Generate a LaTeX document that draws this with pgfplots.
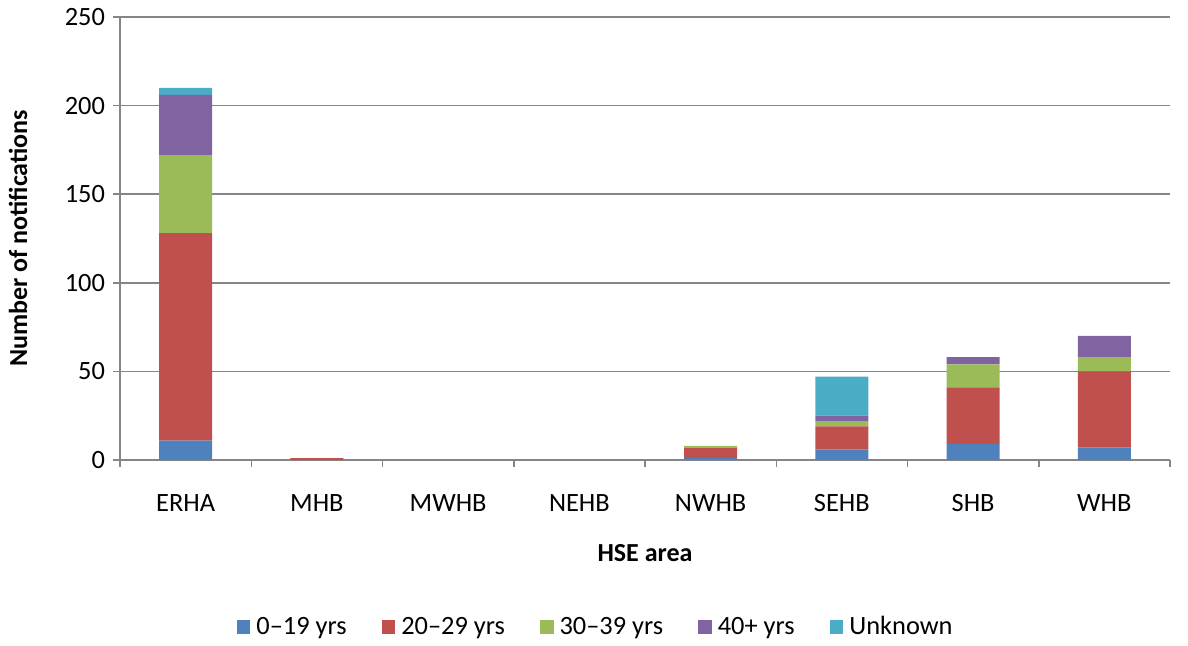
\documentclass[border=0pt]{standalone}
\usepackage{pgfplots}
\pgfplotsset{compat=1.18}
\usepackage{fontspec}
\setmainfont{Carlito}
\definecolor{cA}{HTML}{4F81BD}
\definecolor{cB}{HTML}{C0504D}
\definecolor{cC}{HTML}{9BBB59}
\definecolor{cD}{HTML}{8064A2}
\definecolor{cE}{HTML}{4BACC6}
\definecolor{axgray}{HTML}{868686}
\begin{document}
\begin{tikzpicture}
\begin{axis}[
  at={(0,0)}, anchor=south west,
  scale only axis, width=525pt, height=221.5pt,
  ybar stacked, bar width=26.5pt,
  xmin=-0.5, xmax=7.5, ymin=0, ymax=250,
  xtick={0,...,7},
  xticklabels={ERHA,MHB,MWHB,NEHB,NWHB,SEHB,SHB,WHB},
  minor xtick={-0.5,0.5,...,7.5},
  ytick={0,50,...,250},
  major x tick style={draw=none},
  tick align=outside,
  major tick length=3.5pt, minor tick length=3.5pt,
  tick style={axgray, line width=0.75pt},
  axis x line*=bottom, axis y line*=left,
  axis line style={axgray, line width=0.9pt, -},
  ymajorgrids, grid style={axgray, line width=0.75pt},
  /pgf/number format/assume math mode=true,
  ticklabel style={font=\fontsize{13.2}{15}\selectfont},
  xticklabel style={yshift=-10pt},
  yticklabel style={xshift=-0.5pt},
  xlabel={\textbf{HSE area}}, ylabel={\textbf{Number of notifications}},
  label style={font=\fontsize{13}{15}\selectfont},
  xlabel style={at={(0.5,0)}, anchor=center, yshift=-46.5pt},
  ylabel style={at={(0,0.5)}, anchor=center, rotate=0, yshift=51pt},
  legend columns=5,
  legend style={draw=none, at={(0.454,-0.377)}, anchor=center,
    font=\fontsize{13.2}{15}\selectfont,
    /tikz/every odd column/.append style={column sep=1pt},
    /tikz/every even column/.append style={column sep=15.5pt}},
  legend image code/.code={\fill[#1] (0pt,-3.4pt) rectangle (6.8pt,3.4pt);},
]
\addplot[fill=cA, draw=none] coordinates {(0,11) (1,0) (2,0) (3,0) (4,1) (5,6) (6,9) (7,7)};
\addplot[fill=cB, draw=none] coordinates {(0,117) (1,1) (2,0) (3,0) (4,6) (5,13) (6,32) (7,43)};
\addplot[fill=cC, draw=none] coordinates {(0,44) (1,0) (2,0) (3,0) (4,1) (5,3) (6,13) (7,8)};
\addplot[fill=cD, draw=none] coordinates {(0,34) (1,0) (2,0) (3,0) (4,0) (5,3) (6,4) (7,12)};
\addplot[fill=cE, draw=none] coordinates {(0,4) (1,0) (2,0) (3,0) (4,0) (5,22) (6,0) (7,0)};
\legend{0--19 yrs, 20--29 yrs, 30--39 yrs, 40+ yrs, Unknown}
\end{axis}
\path[use as bounding box] (-60pt,-91.5pt) rectangle (534pt,230pt);
\end{tikzpicture}
\end{document}
